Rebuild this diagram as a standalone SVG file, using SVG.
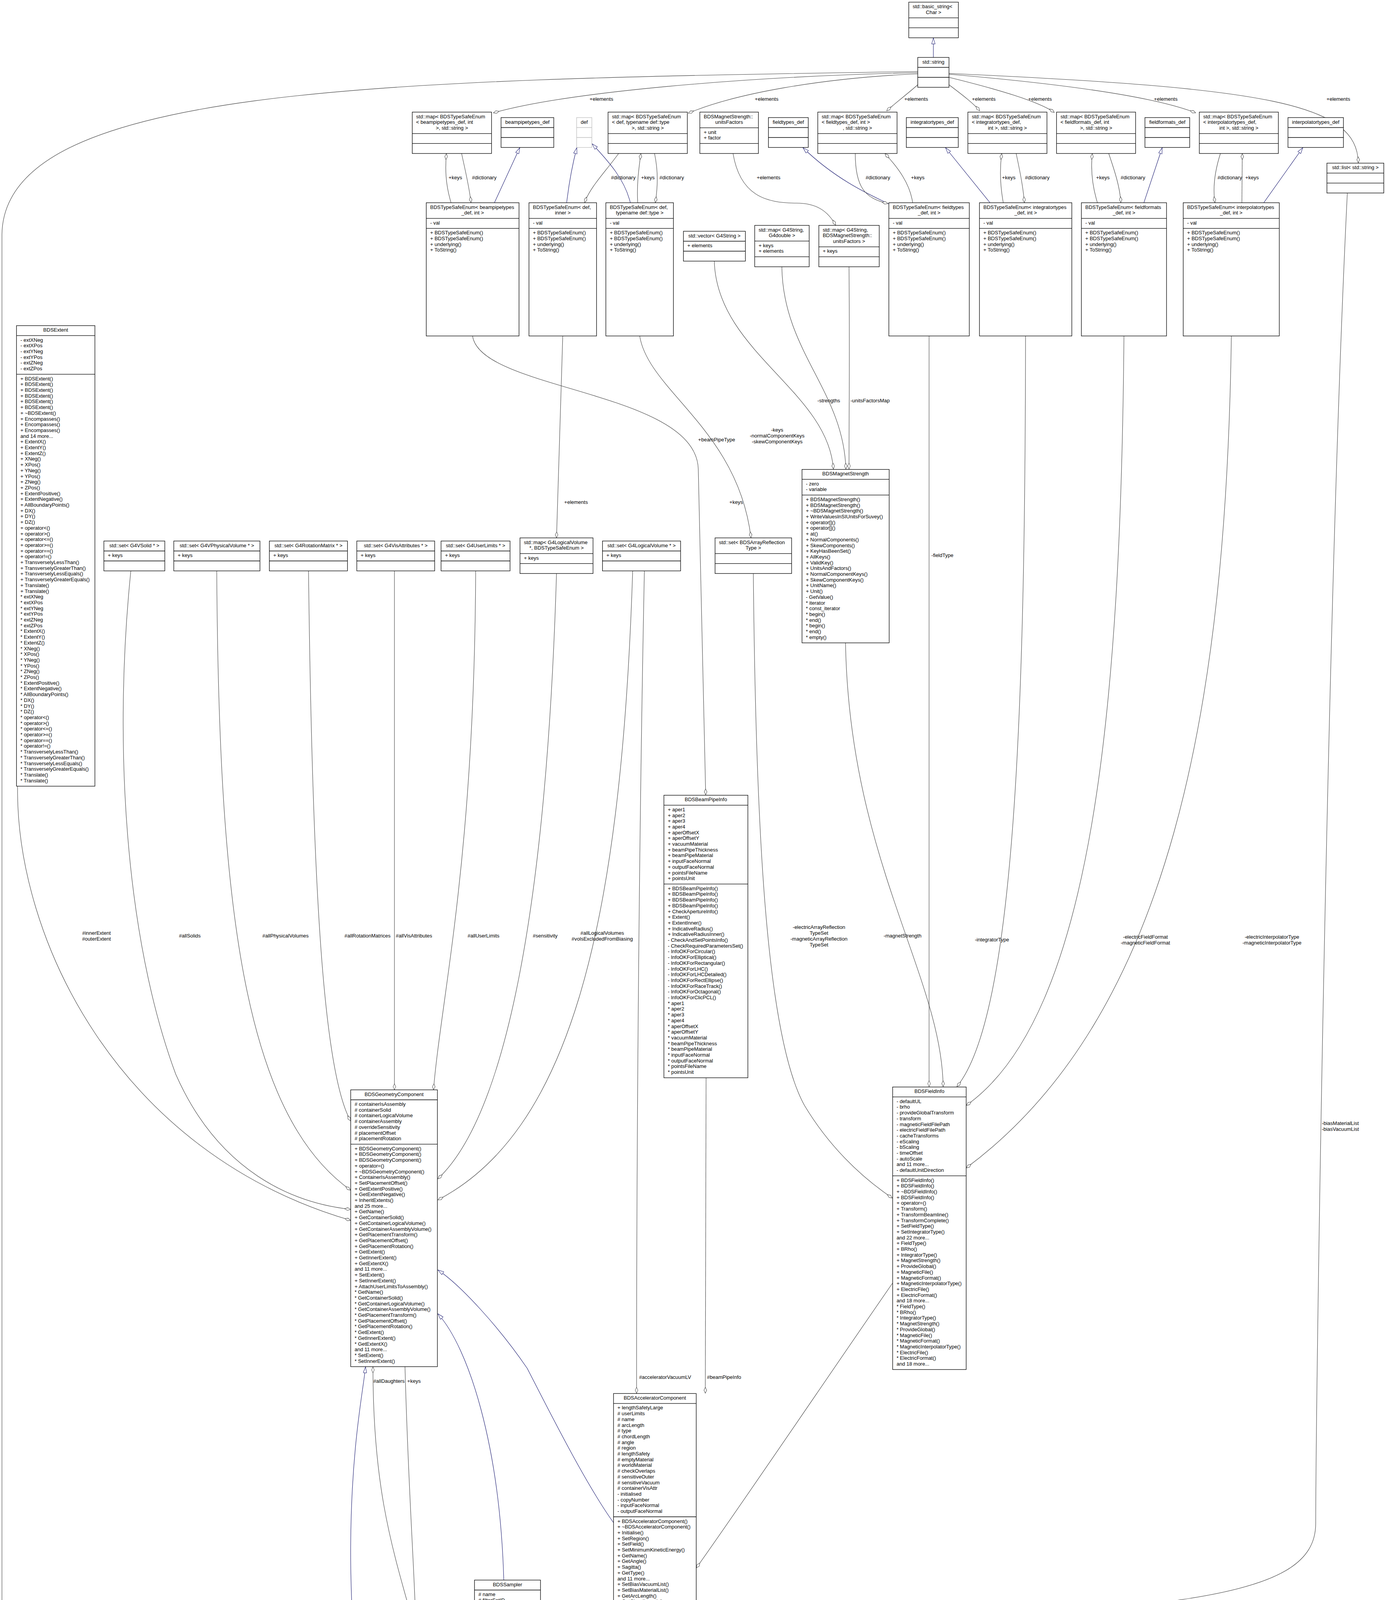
<svg xmlns="http://www.w3.org/2000/svg" width="3549" height="6037" viewBox="0 0 3549 6037">
<style>
.b{fill:#fff;stroke:#000;stroke-width:1.3}
.g{fill:#fff;stroke:#bfbfbf;stroke-width:1.3}
.r{fill:#bfbfbf;stroke:#000;stroke-width:1.3}
.s{stroke:#000;stroke-width:1.3;fill:none}
.sg{stroke:#bfbfbf;stroke-width:1.3;fill:none}
.t{font-family:"Liberation Sans",Arial,Helvetica,sans-serif;font-size:13px;fill:#000}
.c{text-anchor:middle}
.e{fill:none;stroke:#404040;stroke-width:1.1;marker-end:url(#d)}
.i{fill:none;stroke:#191970;stroke-width:1.1;marker-end:url(#a)}
</style>
<defs>
<marker id="d" viewBox="0 0 16 8" refX="16" refY="4" markerWidth="16" markerHeight="8" orient="auto" markerUnits="userSpaceOnUse"><path d="M0.5,4 L8,0.5 L15.5,4 L8,7.5 Z" fill="#fff" stroke="#404040" stroke-width="1"/></marker>
<marker id="a" viewBox="0 0 16 10" refX="16" refY="5" markerWidth="16" markerHeight="10" orient="auto" markerUnits="userSpaceOnUse"><path d="M0.5,0.5 L15.5,5 L0.5,9.5 Z" fill="#fff" stroke="#191970" stroke-width="1"/></marker>
</defs>
<rect width="3549" height="6037" fill="#fff"/>

<g id="edges">
<path class="i" d="M2390,147 L2390,97"/>
<path class="e" d="M2350,186 C1900,196 1450,236 1263,289"/>
<path class="e" d="M2350,189 C2100,200 1880,240 1762,290"/>
<path class="e" d="M2350,217 C2330,235 2295,262 2270,284"/>
<path class="e" d="M2430,217 C2460,240 2490,262 2509,284"/>
<path class="e" d="M2430,198 C2560,230 2660,260 2700,288"/>
<path class="e" d="M2430,190 C2700,213 2950,245 3062,289"/>
<path class="e" d="M2430,188 C3250,225 3475,265 3478,417"/>
<path class="e" d="M2350,183 C1000,205 10,215 5,600 L5,5560 C5,5690 160,5718 276,5723"/>
<path class="e" d="M1155,519 C1140,470 1140,430 1143,393"/>
<path class="e" d="M1182,393 C1192,440 1202,480 1206,519"/>
<path class="i" d="M1266,519 L1331,378"/>
<path class="i" d="M1451,519 C1458,460 1466,420 1477,378"/>
<path class="e" d="M1584,393 C1550,440 1510,480 1497,519"/>
<path class="i" d="M1614,519 C1600,460 1560,415 1516,368"/>
<path class="e" d="M1633,519 C1630,470 1636,430 1641,393"/>
<path class="e" d="M1676,393 C1686,440 1684,480 1678,519"/>
<path class="e" d="M1877,393 C1895,500 1960,520 2040,520 C2090,520 2120,540 2140,577"/>
<path class="i" d="M2276,522 C2230,500 2140,460 2056,378"/>
<path class="e" d="M2190,393 C2190,480 2215,508 2274,521"/>
<path class="e" d="M2337,519 C2330,470 2300,430 2266,393"/>
<path class="i" d="M2535,519 L2421,378"/>
<path class="e" d="M2569,519 C2560,470 2560,430 2565,393"/>
<path class="e" d="M2602,393 C2612,440 2620,480 2623,519"/>
<path class="e" d="M2810,519 C2795,470 2793,430 2797,393"/>
<path class="e" d="M2839,393 C2855,440 2868,480 2870,519"/>
<path class="i" d="M2929,519 L2976,378"/>
<path class="e" d="M3125,393 C3110,440 3105,480 3111,519"/>
<path class="e" d="M3180,519 L3181,393"/>
<path class="i" d="M3236,519 L3336,378"/>
<path class="e" d="M1829,668 C1835,900 2120,1000 2134,1201"/>
<path class="e" d="M2002,683 C2005,900 2160,1000 2166,1201"/>
<path class="e" d="M2174,683 C2176,950 2174,1000 2174,1201"/>
<path class="e" d="M1210,860 C1230,1000 1780,1000 1788,1200 L1807,2035"/>
<path class="e" d="M1638,860 C1660,1000 1890,1100 1923,1377"/>
<path class="e" d="M1441,860 L1425,1377"/>
<path class="e" d="M2379,860 L2379,2782"/>
<path class="e" d="M2165,1646 C2175,2200 2412,2500 2415,2782"/>
<path class="e" d="M1929,1468 C1935,2100 1960,2650 2060,2830 C2120,2930 2200,3010 2285,3067"/>
<path class="e" d="M2626,860 C2625,1800 2600,2600 2450,2782"/>
<path class="e" d="M2878,860 C2870,1800 2800,2600 2474,2830"/>
<path class="e" d="M3153,860 C3140,1800 3000,2600 2474,2990"/>
<path class="e" d="M3450,494 C3400,1500 3370,3500 3369,3900 C3369,4100 3000,4130 1783,4162"/>
<path class="e" d="M2286,3284 C2150,3480 1900,3850 1783,4014"/>
<path class="e" d="M1808,2759 L1806,3567"/>
<path class="e" d="M1650,1462 C1635,2200 1630,3000 1630,3567"/>
<path class="e" d="M1620,1462 C1590,2400 1450,2900 1121,3072"/>
<path class="e" d="M1425,1468 C1400,2300 1300,2850 1121,3018"/>
<path class="e" d="M1010,1462 L1010,2790"/>
<path class="e" d="M1218,1462 C1215,2200 1130,2550 1110,2790"/>
<path class="e" d="M790,1462 C800,2300 830,2750 898,2870"/>
<path class="e" d="M555,1462 C560,2300 620,2850 898,3047"/>
<path class="e" d="M335,1462 C290,1900 320,2400 450,2750 C560,3000 750,3080 898,3096"/>
<path class="e" d="M45,2012 C40,2400 300,2950 898,3124"/>
<path class="e" d="M1037,3498 C1045,3800 1060,4000 1064,4140"/>
<path class="e" d="M1054,4140 C1000,3950 955,3800 955,3499"/>
<path class="i" d="M1571,3898 C1500,3800 1400,3600 1350,3503 C1280,3400 1180,3290 1121,3251"/>
<path class="i" d="M1290,4045 C1280,3700 1200,3450 1121,3363"/>
<path class="i" d="M972,5110 C940,4700 895,4200 898,3950 C900,3700 930,3560 936,3499"/>
<path class="i" d="M1646,4868 L1648,4791"/>
<path class="e" d="M1651,4868 L1657,4791"/>
<path class="i" d="M1229,4868 L1285,4313"/>
<path class="e" d="M1160,5047 C1140,5080 1120,5110 1091,5140"/>
<path class="e" d="M1571,4556 C1450,4750 1200,5150 1091,5222"/>
<path class="e" d="M920,5333 C820,5410 740,5460 684,5496"/>
<path class="e" d="M515,5619 C490,5640 460,5660 440,5683"/>
<path class="e" d="M590,5619 L590,5683"/>
<path class="e" d="M400,5774 C410,5800 425,5815 428,5838"/>
<path class="e" d="M566,5774 C560,5800 545,5815 537,5838"/>
</g>

<g id="edge-labels" class="t c">
<text x="1540" y="257.5">+elements</text>
<text x="1963" y="257.5">+elements</text>
<text x="2346" y="257.5">+elements</text>
<text x="2519" y="257.5">+elements</text>
<text x="2663" y="257.5">+elements</text>
<text x="2985" y="257.5">+elements</text>
<text x="3427" y="257.5">+elements</text>
<text x="1166" y="459">+keys</text>
<text x="1240" y="459">#dictionary</text>
<text x="1596" y="459">#dictionary</text>
<text x="1659" y="459">+keys</text>
<text x="1720" y="459">#dictionary</text>
<text x="1968" y="459">+elements</text>
<text x="2248" y="459">#dictionary</text>
<text x="2350" y="459">+keys</text>
<text x="2583" y="459">+keys</text>
<text x="2656" y="459">#dictionary</text>
<text x="2824" y="459">+keys</text>
<text x="2901" y="459">#dictionary</text>
<text x="3149" y="459">#dictionary</text>
<text x="3206" y="459">+keys</text>
<text x="1835" y="1130">+beamPipeType</text>
<text x="1475" y="1290">+elements</text>
<text x="1885" y="1290">+keys</text>
<text x="1990" y="1105">-keys</text>
<text x="1990" y="1120">-normalComponentKeys</text>
<text x="1990" y="1135">-skewComponentKeys</text>
<text x="2122" y="1030">-strengths</text>
<text x="2228" y="1030">-unitsFactorsMap</text>
<text x="2413" y="1426">-fieldType</text>
<text x="36" y="4500">+keys</text>
<text x="247" y="2392.5">#innerExtent</text>
<text x="247" y="2407.5">#outerExtent</text>
<text x="486" y="2399.5">#allSolids</text>
<text x="731" y="2399.5">#allPhysicalVolumes</text>
<text x="941" y="2399.5">#allRotationMatrices</text>
<text x="1060" y="2399.5">#allVisAttributes</text>
<text x="1238" y="2399.5">#allUserLimits</text>
<text x="1396" y="2399.5">#sensitivity</text>
<text x="1542" y="2392.5">#allLogicalVolumes</text>
<text x="1542" y="2407.5">#volsExcludedFromBiasing</text>
<text x="2097" y="2377.5">-electricArrayReflection</text>
<text x="2097" y="2392.5">TypeSet</text>
<text x="2097" y="2407.5">-magneticArrayReflection</text>
<text x="2097" y="2422.5">TypeSet</text>
<text x="2311" y="2399.5">-magnetStrength</text>
<text x="2540" y="2410">-integratorType</text>
<text x="2933" y="2403">-electricFieldFormat</text>
<text x="2933" y="2418">-magneticFieldFormat</text>
<text x="3257" y="2403">-electricInterpolatorType</text>
<text x="3257" y="2418">-magneticInterpolatorType</text>
<text x="3432" y="2880">-biasMaterialList</text>
<text x="3432" y="2895">-biasVacuumList</text>
<text x="1703" y="3530">#acceleratorVacuumLV</text>
<text x="1854" y="3530">#beamPipeInfo</text>
<text x="996" y="3539.5">#allDaughters</text>
<text x="1060" y="3539.5">+keys</text>
<text x="1707" y="4823">#endPieceAfter</text>
<text x="1703" y="4837">#endPieceBefore</text>
<text x="1162" y="5080">-sampler</text>
<text x="1438" y="4959.5">-component</text>
<text x="731" y="5469.5">+component</text>
<text x="488" y="5654">+elements</text>
<text x="593" y="5654">+elements</text>
<text x="420" y="5808.5">-byName</text>
<text x="556" y="5808.5">-byID</text>
</g>

<g id="n_basic_string"><rect class="b" x="2327" y="5.5" width="127" height="91.2"/><path class="s" d="M2327 45.7h127M2327 71.2h127"/><text class="t" x="2337" y="21">std::basic_string&lt;</text><text class="t c" x="2390.5" y="35.7">Char &gt;</text></g>
<g id="n_string"><rect class="b" x="2350" y="147" width="80" height="76.5"/><path class="s" d="M2350 172.5h80M2350 198h80"/><text class="t c" x="2390" y="162.5">std::string</text></g>

<g id="n_map_bp"><rect class="b" x="1055.6" y="287" width="203" height="105.9"/><path class="s" d="M1055.6 341.9h203M1055.6 367.4h203"/><text class="t" x="1065.6" y="302.5">std::map&lt; BDSTypeSafeEnum<tspan x="1065.6" dy="14.7">&lt; beampipetypes_def, int</tspan></text><text class="t c" x="1157.1" y="331.9">&gt;, std::string &gt;</text></g>
<g id="n_bp_def"><rect class="b" x="1283" y="301" width="135" height="76.5"/><path class="s" d="M1283 326.5h135M1283 352h135"/><text class="t c" x="1350.5" y="316.5">beampipetypes_def</text></g>
<g id="n_def"><rect class="g" x="1476.5" y="301" width="39" height="76.5"/><path class="sg" d="M1476.5 326.5h39M1476.5 352h39"/><text class="t c" x="1496" y="316.5">def</text></g>
<g id="n_map_def"><rect class="b" x="1557" y="287" width="203" height="105.9"/><path class="s" d="M1557 341.9h203M1557 367.4h203"/><text class="t" x="1567" y="302.5">std::map&lt; BDSTypeSafeEnum<tspan x="1567" dy="14.7">&lt; def, typename def::type</tspan></text><text class="t c" x="1658.5" y="331.9">&gt;, std::string &gt;</text></g>
<g id="n_unitsFactors"><rect class="b" x="1792" y="287" width="150" height="105.9"/><path class="s" d="M1792 327.2h150M1792 367.4h150"/><text class="t" x="1802" y="302.5">BDSMagnetStrength::</text><text class="t c" x="1867" y="317.2">unitsFactors</text><text class="t" x="1802" y="342.7">+ unit<tspan x="1802" dy="14.7">+ factor</tspan></text></g>
<g id="n_ft_def"><rect class="b" x="1967.6" y="301" width="102" height="76.5"/><path class="s" d="M1967.6 326.5h102M1967.6 352h102"/><text class="t c" x="2018.6" y="316.5">fieldtypes_def</text></g>
<g id="n_map_ft"><rect class="b" x="2094" y="287" width="203" height="105.9"/><path class="s" d="M2094 341.9h203M2094 367.4h203"/><text class="t" x="2104" y="302.5">std::map&lt; BDSTypeSafeEnum<tspan x="2104" dy="14.7">&lt; fieldtypes_def, int &gt;</tspan></text><text class="t c" x="2195.5" y="331.9">, std::string &gt;</text></g>
<g id="n_it_def"><rect class="b" x="2320.7" y="301" width="133" height="76.5"/><path class="s" d="M2320.7 326.5h133M2320.7 352h133"/><text class="t c" x="2387.2" y="316.5">integratortypes_def</text></g>
<g id="n_map_it"><rect class="b" x="2478.4" y="287" width="202.4" height="105.9"/><path class="s" d="M2478.4 341.9h202.4M2478.4 367.4h202.4"/><text class="t" x="2488.4" y="302.5">std::map&lt; BDSTypeSafeEnum<tspan x="2488.4" dy="14.7">&lt; integratortypes_def,</tspan></text><text class="t c" x="2579.6" y="331.9">int &gt;, std::string &gt;</text></g>
<g id="n_map_ff"><rect class="b" x="2705.4" y="287" width="202.4" height="105.9"/><path class="s" d="M2705.4 341.9h202.4M2705.4 367.4h202.4"/><text class="t" x="2715.4" y="302.5">std::map&lt; BDSTypeSafeEnum<tspan x="2715.4" dy="14.7">&lt; fieldformats_def, int</tspan></text><text class="t c" x="2806.6" y="331.9">&gt;, std::string &gt;</text></g>
<g id="n_ff_def"><rect class="b" x="2931.7" y="301" width="114.7" height="76.5"/><path class="s" d="M2931.7 326.5h114.7M2931.7 352h114.7"/><text class="t c" x="2989" y="316.5">fieldformats_def</text></g>
<g id="n_map_ip"><rect class="b" x="3071" y="287" width="202.4" height="105.9"/><path class="s" d="M3071 341.9h202.4M3071 367.4h202.4"/><text class="t" x="3081" y="302.5">std::map&lt; BDSTypeSafeEnum<tspan x="3081" dy="14.7">&lt; interpolatortypes_def,</tspan></text><text class="t c" x="3172.2" y="331.9">int &gt;, std::string &gt;</text></g>
<g id="n_ip_def"><rect class="b" x="3298" y="301" width="142" height="76.5"/><path class="s" d="M3298 326.5h142M3298 352h142"/><text class="t c" x="3369" y="316.5">interpolatortypes_def</text></g>
<g id="n_list"><rect class="b" x="3397.7" y="417.6" width="145.7" height="76.5"/><path class="s" d="M3397.7 443.1h145.7M3397.7 468.6h145.7"/><text class="t c" x="3470.5" y="433.1">std::list&lt; std::string &gt;</text></g>

<g id="n_enum_bp"><rect class="b" x="1091.5" y="519" width="237.5" height="341.1"/><path class="s" d="M1091.5 559.2h237.5M1091.5 584.7h237.5"/><text class="t" x="1101.5" y="534.5">BDSTypeSafeEnum&lt; beampipetypes</text><text class="t c" x="1210.25" y="549.2">_def, int &gt;</text><text class="t" x="1101.5" y="575">- val</text><text class="t" x="1101.5" y="600.2">+ BDSTypeSafeEnum()<tspan x="1101.5" dy="14.7">+ BDSTypeSafeEnum()</tspan><tspan x="1101.5" dy="14.7">+ underlying()</tspan><tspan x="1101.5" dy="14.7">+ ToString()</tspan></text></g>
<g id="n_enum_di"><rect class="b" x="1354.5" y="519" width="173" height="341.1"/><path class="s" d="M1354.5 559.2h173M1354.5 584.7h173"/><text class="t" x="1364.5" y="534.5">BDSTypeSafeEnum&lt; def,</text><text class="t c" x="1441" y="549.2">inner &gt;</text><text class="t" x="1364.5" y="575">- val</text><text class="t" x="1364.5" y="600.2">+ BDSTypeSafeEnum()<tspan x="1364.5" dy="14.7">+ BDSTypeSafeEnum()</tspan><tspan x="1364.5" dy="14.7">+ underlying()</tspan><tspan x="1364.5" dy="14.7">+ ToString()</tspan></text></g>
<g id="n_enum_dt"><rect class="b" x="1551.4" y="519" width="173" height="341.1"/><path class="s" d="M1551.4 559.2h173M1551.4 584.7h173"/><text class="t" x="1561.4" y="534.5">BDSTypeSafeEnum&lt; def,</text><text class="t c" x="1637.9" y="549.2">typename def::type &gt;</text><text class="t" x="1561.4" y="575">- val</text><text class="t" x="1561.4" y="600.2">+ BDSTypeSafeEnum()<tspan x="1561.4" dy="14.7">+ BDSTypeSafeEnum()</tspan><tspan x="1561.4" dy="14.7">+ underlying()</tspan><tspan x="1561.4" dy="14.7">+ ToString()</tspan></text></g>
<g id="n_enum_ft"><rect class="b" x="2276" y="519" width="206" height="341.1"/><path class="s" d="M2276 559.2h206M2276 584.7h206"/><text class="t" x="2286" y="534.5">BDSTypeSafeEnum&lt; fieldtypes</text><text class="t c" x="2379" y="549.2">_def, int &gt;</text><text class="t" x="2286" y="575">- val</text><text class="t" x="2286" y="600.2">+ BDSTypeSafeEnum()<tspan x="2286" dy="14.7">+ BDSTypeSafeEnum()</tspan><tspan x="2286" dy="14.7">+ underlying()</tspan><tspan x="2286" dy="14.7">+ ToString()</tspan></text></g>
<g id="n_enum_it"><rect class="b" x="2508" y="519" width="236.5" height="341.1"/><path class="s" d="M2508 559.2h236.5M2508 584.7h236.5"/><text class="t" x="2518" y="534.5">BDSTypeSafeEnum&lt; integratortypes</text><text class="t c" x="2626.25" y="549.2">_def, int &gt;</text><text class="t" x="2518" y="575">- val</text><text class="t" x="2518" y="600.2">+ BDSTypeSafeEnum()<tspan x="2518" dy="14.7">+ BDSTypeSafeEnum()</tspan><tspan x="2518" dy="14.7">+ underlying()</tspan><tspan x="2518" dy="14.7">+ ToString()</tspan></text></g>
<g id="n_enum_ff"><rect class="b" x="2769" y="519" width="218" height="341.1"/><path class="s" d="M2769 559.2h218M2769 584.7h218"/><text class="t" x="2779" y="534.5">BDSTypeSafeEnum&lt; fieldformats</text><text class="t c" x="2878" y="549.2">_def, int &gt;</text><text class="t" x="2779" y="575">- val</text><text class="t" x="2779" y="600.2">+ BDSTypeSafeEnum()<tspan x="2779" dy="14.7">+ BDSTypeSafeEnum()</tspan><tspan x="2779" dy="14.7">+ underlying()</tspan><tspan x="2779" dy="14.7">+ ToString()</tspan></text></g>
<g id="n_enum_ip"><rect class="b" x="3029.7" y="519" width="246" height="341.1"/><path class="s" d="M3029.7 559.2h246M3029.7 584.7h246"/><text class="t" x="3039.7" y="534.5">BDSTypeSafeEnum&lt; interpolatortypes</text><text class="t c" x="3152.7" y="549.2">_def, int &gt;</text><text class="t" x="3039.7" y="575">- val</text><text class="t" x="3039.7" y="600.2">+ BDSTypeSafeEnum()<tspan x="3039.7" dy="14.7">+ BDSTypeSafeEnum()</tspan><tspan x="3039.7" dy="14.7">+ underlying()</tspan><tspan x="3039.7" dy="14.7">+ ToString()</tspan></text></g>

<g id="n_vec_g4string"><rect class="b" x="1750" y="592" width="158.6" height="76.5"/><path class="s" d="M1750 617.5h158.6M1750 643h158.6"/><text class="t c" x="1829.3" y="607.5">std::vector&lt; G4String &gt;</text><text class="t" x="1760" y="633">+ elements</text></g>
<g id="n_map_g4double"><rect class="b" x="1932.5" y="577" width="139.5" height="105.9"/><path class="s" d="M1932.5 617.2h139.5M1932.5 657.4h139.5"/><text class="t" x="1942.5" y="592.5">std::map&lt; G4String,</text><text class="t c" x="2002.25" y="607.2">G4double &gt;</text><text class="t" x="1942.5" y="632.7">+ keys<tspan x="1942.5" dy="14.7">+ elements</tspan></text></g>
<g id="n_map_uf"><rect class="b" x="2096.7" y="577" width="154.7" height="105.9"/><path class="s" d="M2096.7 631.9h154.7M2096.7 657.4h154.7"/><text class="t" x="2106.7" y="592.5">std::map&lt; G4String,<tspan x="2106.7" dy="14.7">BDSMagnetStrength::</tspan></text><text class="t c" x="2174" y="621.9">unitsFactors &gt;</text><text class="t" x="2106.7" y="647.4">+ keys</text></g>

<g id="n_BDSExtent"><rect class="b" x="42.3" y="833.6" width="200.7" height="1179"/><path class="s" d="M42.3 859.1h200.7M42.3 958.1h200.7"/><text class="t c" x="142.65" y="849.1">BDSExtent</text>
<text class="t" x="52.3" y="874.6">- extXNeg<tspan x="52.3" dy="14.7">- extXPos</tspan><tspan x="52.3" dy="14.7">- extYNeg</tspan><tspan x="52.3" dy="14.7">- extYPos</tspan><tspan x="52.3" dy="14.7">- extZNeg</tspan><tspan x="52.3" dy="14.7">- extZPos</tspan></text>
<text class="t" x="52.3" y="973.6">+ BDSExtent()<tspan x="52.3" dy="14.7">+ BDSExtent()</tspan><tspan x="52.3" dy="14.7">+ BDSExtent()</tspan><tspan x="52.3" dy="14.7">+ BDSExtent()</tspan><tspan x="52.3" dy="14.7">+ BDSExtent()</tspan><tspan x="52.3" dy="14.7">+ BDSExtent()</tspan><tspan x="52.3" dy="14.7">+ ~BDSExtent()</tspan><tspan x="52.3" dy="14.7">+ Encompasses()</tspan><tspan x="52.3" dy="14.7">+ Encompasses()</tspan><tspan x="52.3" dy="14.7">+ Encompasses()</tspan><tspan x="52.3" dy="14.7">and 14 more...</tspan><tspan x="52.3" dy="14.7">+ ExtentX()</tspan><tspan x="52.3" dy="14.7">+ ExtentY()</tspan><tspan x="52.3" dy="14.7">+ ExtentZ()</tspan><tspan x="52.3" dy="14.7">+ XNeg()</tspan><tspan x="52.3" dy="14.7">+ XPos()</tspan><tspan x="52.3" dy="14.7">+ YNeg()</tspan><tspan x="52.3" dy="14.7">+ YPos()</tspan><tspan x="52.3" dy="14.7">+ ZNeg()</tspan><tspan x="52.3" dy="14.7">+ ZPos()</tspan><tspan x="52.3" dy="14.7">+ ExtentPositive()</tspan><tspan x="52.3" dy="14.7">+ ExtentNegative()</tspan><tspan x="52.3" dy="14.7">+ AllBoundaryPoints()</tspan><tspan x="52.3" dy="14.7">+ DX()</tspan><tspan x="52.3" dy="14.7">+ DY()</tspan><tspan x="52.3" dy="14.7">+ DZ()</tspan><tspan x="52.3" dy="14.7">+ operator&lt;()</tspan><tspan x="52.3" dy="14.7">+ operator&gt;()</tspan><tspan x="52.3" dy="14.7">+ operator&lt;=()</tspan><tspan x="52.3" dy="14.7">+ operator&gt;=()</tspan><tspan x="52.3" dy="14.7">+ operator==()</tspan><tspan x="52.3" dy="14.7">+ operator!=()</tspan><tspan x="52.3" dy="14.7">+ TransverselyLessThan()</tspan><tspan x="52.3" dy="14.7">+ TransverselyGreaterThan()</tspan><tspan x="52.3" dy="14.7">+ TransverselyLessEquals()</tspan><tspan x="52.3" dy="14.7">+ TransverselyGreaterEquals()</tspan><tspan x="52.3" dy="14.7">+ Translate()</tspan><tspan x="52.3" dy="14.7">+ Translate()</tspan><tspan x="52.3" dy="14.7">* extXNeg</tspan><tspan x="52.3" dy="14.7">* extXPos</tspan><tspan x="52.3" dy="14.7">* extYNeg</tspan><tspan x="52.3" dy="14.7">* extYPos</tspan><tspan x="52.3" dy="14.7">* extZNeg</tspan><tspan x="52.3" dy="14.7">* extZPos</tspan><tspan x="52.3" dy="14.7">* ExtentX()</tspan><tspan x="52.3" dy="14.7">* ExtentY()</tspan><tspan x="52.3" dy="14.7">* ExtentZ()</tspan><tspan x="52.3" dy="14.7">* XNeg()</tspan><tspan x="52.3" dy="14.7">* XPos()</tspan><tspan x="52.3" dy="14.7">* YNeg()</tspan><tspan x="52.3" dy="14.7">* YPos()</tspan><tspan x="52.3" dy="14.7">* ZNeg()</tspan><tspan x="52.3" dy="14.7">* ZPos()</tspan><tspan x="52.3" dy="14.7">* ExtentPositive()</tspan><tspan x="52.3" dy="14.7">* ExtentNegative()</tspan><tspan x="52.3" dy="14.7">* AllBoundaryPoints()</tspan><tspan x="52.3" dy="14.7">* DX()</tspan><tspan x="52.3" dy="14.7">* DY()</tspan><tspan x="52.3" dy="14.7">* DZ()</tspan><tspan x="52.3" dy="14.7">* operator&lt;()</tspan><tspan x="52.3" dy="14.7">* operator&gt;()</tspan><tspan x="52.3" dy="14.7">* operator&lt;=()</tspan><tspan x="52.3" dy="14.7">* operator&gt;=()</tspan><tspan x="52.3" dy="14.7">* operator==()</tspan><tspan x="52.3" dy="14.7">* operator!=()</tspan><tspan x="52.3" dy="14.7">* TransverselyLessThan()</tspan><tspan x="52.3" dy="14.7">* TransverselyGreaterThan()</tspan><tspan x="52.3" dy="14.7">* TransverselyLessEquals()</tspan><tspan x="52.3" dy="14.7">* TransverselyGreaterEquals()</tspan><tspan x="52.3" dy="14.7">* Translate()</tspan><tspan x="52.3" dy="14.7">* Translate()</tspan></text></g>

<g id="n_set_solid"><rect class="b" x="266" y="1385" width="156" height="76.5"/><path class="s" d="M266 1410.5h156M266 1436h156"/><text class="t c" x="344" y="1400.5">std::set&lt; G4VSolid * &gt;</text><text class="t" x="276" y="1426">+ keys</text></g>
<g id="n_set_pv"><rect class="b" x="445" y="1385" width="220.6" height="76.5"/><path class="s" d="M445 1410.5h220.6M445 1436h220.6"/><text class="t c" x="555.3" y="1400.5">std::set&lt; G4VPhysicalVolume * &gt;</text><text class="t" x="455" y="1426">+ keys</text></g>
<g id="n_set_rot"><rect class="b" x="689.7" y="1385" width="200" height="76.5"/><path class="s" d="M689.7 1410.5h200M689.7 1436h200"/><text class="t c" x="789.7" y="1400.5">std::set&lt; G4RotationMatrix * &gt;</text><text class="t" x="699.7" y="1426">+ keys</text></g>
<g id="n_set_vis"><rect class="b" x="913.6" y="1385" width="199.4" height="76.5"/><path class="s" d="M913.6 1410.5h199.4M913.6 1436h199.4"/><text class="t c" x="1013.3" y="1400.5">std::set&lt; G4VisAttributes * &gt;</text><text class="t" x="923.6" y="1426">+ keys</text></g>
<g id="n_set_ul"><rect class="b" x="1129.4" y="1385" width="176.6" height="76.5"/><path class="s" d="M1129.4 1410.5h176.6M1129.4 1436h176.6"/><text class="t c" x="1217.7" y="1400.5">std::set&lt; G4UserLimits * &gt;</text><text class="t" x="1139.4" y="1426">+ keys</text></g>
<g id="n_map_lv"><rect class="b" x="1331.5" y="1377" width="187" height="91.2"/><path class="s" d="M1331.5 1417.2h187M1331.5 1442.7h187"/><text class="t" x="1341.5" y="1392.5">std::map&lt; G4LogicalVolume</text><text class="t c" x="1425" y="1407.2">*, BDSTypeSafeEnum &gt;</text><text class="t" x="1341.5" y="1432.7">+ keys</text></g>
<g id="n_set_lv"><rect class="b" x="1542.7" y="1385" width="200" height="76.5"/><path class="s" d="M1542.7 1410.5h200M1542.7 1436h200"/><text class="t c" x="1642.7" y="1400.5">std::set&lt; G4LogicalVolume * &gt;</text><text class="t" x="1552.7" y="1426">+ keys</text></g>
<g id="n_set_ar"><rect class="b" x="1831" y="1377" width="196" height="91.2"/><path class="s" d="M1831 1417.2h196M1831 1442.7h196"/><text class="t" x="1841" y="1392.5">std::set&lt; BDSArrayReflection</text><text class="t c" x="1929" y="1407.2">Type &gt;</text></g>

<g id="n_BDSMagnetStrength"><rect class="b" x="2053.6" y="1201.7" width="223.2" height="444"/><path class="s" d="M2053.6 1227.2h223.2M2053.6 1267.4h223.2"/><text class="t c" x="2165.2" y="1217.2">BDSMagnetStrength</text><text class="t" x="2063.6" y="1242.7">- zero<tspan x="2063.6" dy="14.7">- variable</tspan></text>
<text class="t" x="2063.6" y="1282.9">+ BDSMagnetStrength()<tspan x="2063.6" dy="14.7">+ BDSMagnetStrength()</tspan><tspan x="2063.6" dy="14.7">+ ~BDSMagnetStrength()</tspan><tspan x="2063.6" dy="14.7">+ WriteValuesInSIUnitsForSuvey()</tspan><tspan x="2063.6" dy="14.7">+ operator[]()</tspan><tspan x="2063.6" dy="14.7">+ operator[]()</tspan><tspan x="2063.6" dy="14.7">+ at()</tspan><tspan x="2063.6" dy="14.7">+ NormalComponents()</tspan><tspan x="2063.6" dy="14.7">+ SkewComponents()</tspan><tspan x="2063.6" dy="14.7">+ KeyHasBeenSet()</tspan><tspan x="2063.6" dy="14.7">+ AllKeys()</tspan><tspan x="2063.6" dy="14.7">+ ValidKey()</tspan><tspan x="2063.6" dy="14.7">+ UnitsAndFactors()</tspan><tspan x="2063.6" dy="14.7">+ NormalComponentKeys()</tspan><tspan x="2063.6" dy="14.7">+ SkewComponentKeys()</tspan><tspan x="2063.6" dy="14.7">+ UnitName()</tspan><tspan x="2063.6" dy="14.7">+ Unit()</tspan><tspan x="2063.6" dy="14.7">- GetValue()</tspan><tspan x="2063.6" dy="14.7">* iterator</tspan><tspan x="2063.6" dy="14.7">* const_iterator</tspan><tspan x="2063.6" dy="14.7">* begin()</tspan><tspan x="2063.6" dy="14.7">* end()</tspan><tspan x="2063.6" dy="14.7">* begin()</tspan><tspan x="2063.6" dy="14.7">* end()</tspan><tspan x="2063.6" dy="14.7">* empty()</tspan></text></g>

<g id="n_BDSBeamPipeInfo"><rect class="b" x="1700" y="2035.8" width="215" height="723.3"/><path class="s" d="M1700 2061.3h215M1700 2263.2h215"/><text class="t c" x="1807.5" y="2051.3">BDSBeamPipeInfo</text>
<text class="t" x="1710" y="2076.8">+ aper1<tspan x="1710" dy="14.7">+ aper2</tspan><tspan x="1710" dy="14.7">+ aper3</tspan><tspan x="1710" dy="14.7">+ aper4</tspan><tspan x="1710" dy="14.7">+ aperOffsetX</tspan><tspan x="1710" dy="14.7">+ aperOffsetY</tspan><tspan x="1710" dy="14.7">+ vacuumMaterial</tspan><tspan x="1710" dy="14.7">+ beamPipeThickness</tspan><tspan x="1710" dy="14.7">+ beamPipeMaterial</tspan><tspan x="1710" dy="14.7">+ inputFaceNormal</tspan><tspan x="1710" dy="14.7">+ outputFaceNormal</tspan><tspan x="1710" dy="14.7">+ pointsFileName</tspan><tspan x="1710" dy="14.7">+ pointsUnit</tspan></text>
<text class="t" x="1710" y="2278.7">+ BDSBeamPipeInfo()<tspan x="1710" dy="14.7">+ BDSBeamPipeInfo()</tspan><tspan x="1710" dy="14.7">+ BDSBeamPipeInfo()</tspan><tspan x="1710" dy="14.7">+ BDSBeamPipeInfo()</tspan><tspan x="1710" dy="14.7">+ CheckApertureInfo()</tspan><tspan x="1710" dy="14.7">+ Extent()</tspan><tspan x="1710" dy="14.7">+ ExtentInner()</tspan><tspan x="1710" dy="14.7">+ IndicativeRadius()</tspan><tspan x="1710" dy="14.7">+ IndicativeRadiusInner()</tspan><tspan x="1710" dy="14.7">- CheckAndSetPointsInfo()</tspan><tspan x="1710" dy="14.7">- CheckRequiredParametersSet()</tspan><tspan x="1710" dy="14.7">- InfoOKForCircular()</tspan><tspan x="1710" dy="14.7">- InfoOKForElliptical()</tspan><tspan x="1710" dy="14.7">- InfoOKForRectangular()</tspan><tspan x="1710" dy="14.7">- InfoOKForLHC()</tspan><tspan x="1710" dy="14.7">- InfoOKForLHCDetailed()</tspan><tspan x="1710" dy="14.7">- InfoOKForRectEllipse()</tspan><tspan x="1710" dy="14.7">- InfoOKForRaceTrack()</tspan><tspan x="1710" dy="14.7">- InfoOKForOctagonal()</tspan><tspan x="1710" dy="14.7">- InfoOKForClicPCL()</tspan><tspan x="1710" dy="14.7">* aper1</tspan><tspan x="1710" dy="14.7">* aper2</tspan><tspan x="1710" dy="14.7">* aper3</tspan><tspan x="1710" dy="14.7">* aper4</tspan><tspan x="1710" dy="14.7">* aperOffsetX</tspan><tspan x="1710" dy="14.7">* aperOffsetY</tspan><tspan x="1710" dy="14.7">* vacuumMaterial</tspan><tspan x="1710" dy="14.7">* beamPipeThickness</tspan><tspan x="1710" dy="14.7">* beamPipeMaterial</tspan><tspan x="1710" dy="14.7">* inputFaceNormal</tspan><tspan x="1710" dy="14.7">* outputFaceNormal</tspan><tspan x="1710" dy="14.7">* pointsFileName</tspan><tspan x="1710" dy="14.7">* pointsUnit</tspan></text></g>

<g id="n_BDSGeometryComponent"><rect class="b" x="898" y="2790" width="222" height="708.6"/><path class="s" d="M898 2815.5h222M898 2929.2h222"/><text class="t c" x="1009" y="2805.5">BDSGeometryComponent</text>
<text class="t" x="908" y="2831"># containerIsAssembly<tspan x="908" dy="14.7"># containerSolid</tspan><tspan x="908" dy="14.7"># containerLogicalVolume</tspan><tspan x="908" dy="14.7"># containerAssembly</tspan><tspan x="908" dy="14.7"># overrideSensitivity</tspan><tspan x="908" dy="14.7"># placementOffset</tspan><tspan x="908" dy="14.7"># placementRotation</tspan></text>
<text class="t" x="908" y="2944.7">+ BDSGeometryComponent()<tspan x="908" dy="14.7">+ BDSGeometryComponent()</tspan><tspan x="908" dy="14.7">+ BDSGeometryComponent()</tspan><tspan x="908" dy="14.7">+ operator=()</tspan><tspan x="908" dy="14.7">+ ~BDSGeometryComponent()</tspan><tspan x="908" dy="14.7">+ ContainerIsAssembly()</tspan><tspan x="908" dy="14.7">+ SetPlacementOffset()</tspan><tspan x="908" dy="14.7">+ GetExtentPositive()</tspan><tspan x="908" dy="14.7">+ GetExtentNegative()</tspan><tspan x="908" dy="14.7">+ InheritExtents()</tspan><tspan x="908" dy="14.7">and 25 more...</tspan><tspan x="908" dy="14.7">+ GetName()</tspan><tspan x="908" dy="14.7">+ GetContainerSolid()</tspan><tspan x="908" dy="14.7">+ GetContainerLogicalVolume()</tspan><tspan x="908" dy="14.7">+ GetContainerAssemblyVolume()</tspan><tspan x="908" dy="14.7">+ GetPlacementTransform()</tspan><tspan x="908" dy="14.7">+ GetPlacementOffset()</tspan><tspan x="908" dy="14.7">+ GetPlacementRotation()</tspan><tspan x="908" dy="14.7">+ GetExtent()</tspan><tspan x="908" dy="14.7">+ GetInnerExtent()</tspan><tspan x="908" dy="14.7">+ GetExtentX()</tspan><tspan x="908" dy="14.7">and 11 more...</tspan><tspan x="908" dy="14.7">+ SetExtent()</tspan><tspan x="908" dy="14.7">+ SetInnerExtent()</tspan><tspan x="908" dy="14.7">+ AttachUserLimitsToAssembly()</tspan><tspan x="908" dy="14.7">* GetName()</tspan><tspan x="908" dy="14.7">* GetContainerSolid()</tspan><tspan x="908" dy="14.7">* GetContainerLogicalVolume()</tspan><tspan x="908" dy="14.7">* GetContainerAssemblyVolume()</tspan><tspan x="908" dy="14.7">* GetPlacementTransform()</tspan><tspan x="908" dy="14.7">* GetPlacementOffset()</tspan><tspan x="908" dy="14.7">* GetPlacementRotation()</tspan><tspan x="908" dy="14.7">* GetExtent()</tspan><tspan x="908" dy="14.7">* GetInnerExtent()</tspan><tspan x="908" dy="14.7">* GetExtentX()</tspan><tspan x="908" dy="14.7">and 11 more...</tspan><tspan x="908" dy="14.7">* SetExtent()</tspan><tspan x="908" dy="14.7">* SetInnerExtent()</tspan></text></g>

<g id="n_BDSFieldInfo"><rect class="b" x="2285.7" y="2782.7" width="188.3" height="723.3"/><path class="s" d="M2285.7 2808.2h188.3M2285.7 3010.1h188.3"/><text class="t c" x="2379.85" y="2798.2">BDSFieldInfo</text>
<text class="t" x="2295.7" y="2823.7">- defaultUL<tspan x="2295.7" dy="14.7">- brho</tspan><tspan x="2295.7" dy="14.7">- provideGlobalTransform</tspan><tspan x="2295.7" dy="14.7">- transform</tspan><tspan x="2295.7" dy="14.7">- magneticFieldFilePath</tspan><tspan x="2295.7" dy="14.7">- electricFieldFilePath</tspan><tspan x="2295.7" dy="14.7">- cacheTransforms</tspan><tspan x="2295.7" dy="14.7">- eScaling</tspan><tspan x="2295.7" dy="14.7">- bScaling</tspan><tspan x="2295.7" dy="14.7">- timeOffset</tspan><tspan x="2295.7" dy="14.7">- autoScale</tspan><tspan x="2295.7" dy="14.7">and 11 more...</tspan><tspan x="2295.7" dy="14.7">- defaultUnitDirection</tspan></text>
<text class="t" x="2295.7" y="3025.6">+ BDSFieldInfo()<tspan x="2295.7" dy="14.7">+ BDSFieldInfo()</tspan><tspan x="2295.7" dy="14.7">+ ~BDSFieldInfo()</tspan><tspan x="2295.7" dy="14.7">+ BDSFieldInfo()</tspan><tspan x="2295.7" dy="14.7">+ operator=()</tspan><tspan x="2295.7" dy="14.7">+ Transform()</tspan><tspan x="2295.7" dy="14.7">+ TransformBeamline()</tspan><tspan x="2295.7" dy="14.7">+ TransformComplete()</tspan><tspan x="2295.7" dy="14.7">+ SetFieldType()</tspan><tspan x="2295.7" dy="14.7">+ SetIntegratorType()</tspan><tspan x="2295.7" dy="14.7">and 22 more...</tspan><tspan x="2295.7" dy="14.7">+ FieldType()</tspan><tspan x="2295.7" dy="14.7">+ BRho()</tspan><tspan x="2295.7" dy="14.7">+ IntegratorType()</tspan><tspan x="2295.7" dy="14.7">+ MagnetStrength()</tspan><tspan x="2295.7" dy="14.7">+ ProvideGlobal()</tspan><tspan x="2295.7" dy="14.7">+ MagneticFile()</tspan><tspan x="2295.7" dy="14.7">+ MagneticFormat()</tspan><tspan x="2295.7" dy="14.7">+ MagneticInterpolatorType()</tspan><tspan x="2295.7" dy="14.7">+ ElectricFile()</tspan><tspan x="2295.7" dy="14.7">+ ElectricFormat()</tspan><tspan x="2295.7" dy="14.7">and 18 more...</tspan><tspan x="2295.7" dy="14.7">* FieldType()</tspan><tspan x="2295.7" dy="14.7">* BRho()</tspan><tspan x="2295.7" dy="14.7">* IntegratorType()</tspan><tspan x="2295.7" dy="14.7">* MagnetStrength()</tspan><tspan x="2295.7" dy="14.7">* ProvideGlobal()</tspan><tspan x="2295.7" dy="14.7">* MagneticFile()</tspan><tspan x="2295.7" dy="14.7">* MagneticFormat()</tspan><tspan x="2295.7" dy="14.7">* MagneticInterpolatorType()</tspan><tspan x="2295.7" dy="14.7">* ElectricFile()</tspan><tspan x="2295.7" dy="14.7">* ElectricFormat()</tspan><tspan x="2295.7" dy="14.7">and 18 more...</tspan></text></g>

<g id="n_BDSAcceleratorComponent"><rect class="b" x="1571" y="3567.4" width="211.7" height="1223.1"/><path class="s" d="M1571 3592.9h211.7M1571 3883h211.7"/><text class="t c" x="1676.85" y="3582.9">BDSAcceleratorComponent</text>
<text class="t" x="1581" y="3608.4">+ lengthSafetyLarge<tspan x="1581" dy="14.7"># userLimits</tspan><tspan x="1581" dy="14.7"># name</tspan><tspan x="1581" dy="14.7"># arcLength</tspan><tspan x="1581" dy="14.7"># type</tspan><tspan x="1581" dy="14.7"># chordLength</tspan><tspan x="1581" dy="14.7"># angle</tspan><tspan x="1581" dy="14.7"># region</tspan><tspan x="1581" dy="14.7"># lengthSafety</tspan><tspan x="1581" dy="14.7"># emptyMaterial</tspan><tspan x="1581" dy="14.7"># worldMaterial</tspan><tspan x="1581" dy="14.7"># checkOverlaps</tspan><tspan x="1581" dy="14.7"># sensitiveOuter</tspan><tspan x="1581" dy="14.7"># sensitiveVacuum</tspan><tspan x="1581" dy="14.7"># containerVisAttr</tspan><tspan x="1581" dy="14.7">- initialised</tspan><tspan x="1581" dy="14.7">- copyNumber</tspan><tspan x="1581" dy="14.7">- inputFaceNormal</tspan><tspan x="1581" dy="14.7">- outputFaceNormal</tspan></text>
<text class="t" x="1581" y="3898.5">+ BDSAcceleratorComponent()<tspan x="1581" dy="14.7">+ ~BDSAcceleratorComponent()</tspan><tspan x="1581" dy="14.7">+ Initialise()</tspan><tspan x="1581" dy="14.7">+ SetRegion()</tspan><tspan x="1581" dy="14.7">+ SetField()</tspan><tspan x="1581" dy="14.7">+ SetMinimumKineticEnergy()</tspan><tspan x="1581" dy="14.7">+ GetName()</tspan><tspan x="1581" dy="14.7">+ GetAngle()</tspan><tspan x="1581" dy="14.7">+ Sagitta()</tspan><tspan x="1581" dy="14.7">+ GetType()</tspan><tspan x="1581" dy="14.7">and 11 more...</tspan><tspan x="1581" dy="14.7">+ SetBiasVacuumList()</tspan><tspan x="1581" dy="14.7">+ SetBiasMaterialList()</tspan><tspan x="1581" dy="14.7">+ GetArcLength()</tspan><tspan x="1581" dy="14.7">+ GetChordLength()</tspan><tspan x="1581" dy="14.7">+ InputFaceNormal()</tspan><tspan x="1581" dy="14.7">+ OutputFaceNormal()</tspan><tspan x="1581" dy="14.7">+ AngledInputFace()</tspan><tspan x="1581" dy="14.7">+ AngledOutputFace()</tspan><tspan x="1581" dy="14.7">+ GetBiasVacuumList()</tspan><tspan x="1581" dy="14.7">+ GetBiasMaterialList()</tspan><tspan x="1581" dy="14.7">+ SetInputFaceNormal()</tspan><tspan x="1581" dy="14.7">+ SetOutputFaceNormal()</tspan><tspan x="1581" dy="14.7"># Build()</tspan><tspan x="1581" dy="14.7"># BuildContainerLogicalVolume()</tspan><tspan x="1581" dy="14.7"># SetAcceleratorVacuumLogical</tspan><tspan x="1581" dy="14.7">Volume()</tspan><tspan x="1581" dy="14.7"># SetAcceleratorVacuumLogical</tspan><tspan x="1581" dy="14.7">Volume()</tspan><tspan x="1581" dy="14.7"># BuildUserLimits()</tspan><tspan x="1581" dy="14.7"># AttachUserLimits()</tspan><tspan x="1581" dy="14.7">- BDSAcceleratorComponent()</tspan><tspan x="1581" dy="14.7">- operator=()</tspan><tspan x="1581" dy="14.7">- BDSAcceleratorComponent()</tspan><tspan x="1581" dy="14.7">* name</tspan><tspan x="1581" dy="14.7">* arcLength</tspan><tspan x="1581" dy="14.7">* type</tspan><tspan x="1581" dy="14.7">* chordLength</tspan><tspan x="1581" dy="14.7">* angle</tspan><tspan x="1581" dy="14.7">* region</tspan><tspan x="1581" dy="14.7">* lengthSafety</tspan><tspan x="1581" dy="14.7">* emptyMaterial</tspan><tspan x="1581" dy="14.7">* worldMaterial</tspan><tspan x="1581" dy="14.7">* checkOverlaps</tspan><tspan x="1581" dy="14.7">* sensitiveOuter</tspan><tspan x="1581" dy="14.7">* sensitiveVacuum</tspan><tspan x="1581" dy="14.7">* containerVisAttr</tspan><tspan x="1581" dy="14.7">* SetBiasVacuumList()</tspan><tspan x="1581" dy="14.7">* SetBiasMaterialList()</tspan><tspan x="1581" dy="14.7">* GetArcLength()</tspan><tspan x="1581" dy="14.7">* GetChordLength()</tspan><tspan x="1581" dy="14.7">* InputFaceNormal()</tspan><tspan x="1581" dy="14.7">* OutputFaceNormal()</tspan><tspan x="1581" dy="14.7">* AngledInputFace()</tspan><tspan x="1581" dy="14.7">* AngledOutputFace()</tspan><tspan x="1581" dy="14.7">* GetBiasVacuumList()</tspan><tspan x="1581" dy="14.7">* GetBiasMaterialList()</tspan><tspan x="1581" dy="14.7">* SetInputFaceNormal()</tspan><tspan x="1581" dy="14.7">* SetOutputFaceNormal()</tspan><tspan x="1581" dy="14.7">* operator=()</tspan><tspan x="1581" dy="14.7">* BDSAcceleratorComponent()</tspan></text></g>

<g id="n_set_gc"><rect class="b" x="940.8" y="4140" width="251" height="76.5"/><path class="s" d="M940.8 4165.5h251M940.8 4191h251"/><text class="t c" x="1066.3" y="4155.5">std::set&lt; BDSGeometryComponent * &gt;</text></g>

<g id="n_BDSSampler"><rect class="b" x="1215" y="4045" width="169" height="267.6"/><path class="s" d="M1215 4070.5h169M1215 4110.7h169"/><text class="t c" x="1299.5" y="4060.5">BDSSampler</text><text class="t" x="1225" y="4086"># name<tspan x="1225" dy="14.7"># filterSetID</tspan></text>
<text class="t" x="1225" y="4126.2">+ BDSSampler()<tspan x="1225" dy="14.7">+ BDSSampler()</tspan><tspan x="1225" dy="14.7">+ ~BDSSampler()</tspan><tspan x="1225" dy="14.7">+ operator=()</tspan><tspan x="1225" dy="14.7">+ BDSSampler()</tspan><tspan x="1225" dy="14.7">+ GetName()</tspan><tspan x="1225" dy="14.7">+ GetFilterSetID()</tspan><tspan x="1225" dy="14.7"># CommonConstruction()</tspan><tspan x="1225" dy="14.7"># SetSensitivity()</tspan><tspan x="1225" dy="14.7">* operator=()</tspan><tspan x="1225" dy="14.7">* BDSSampler()</tspan><tspan x="1225" dy="14.7">* GetName()</tspan><tspan x="1225" dy="14.7">* GetFilterSetID()</tspan></text></g>

<g id="n_BDSSamplerCustom"><rect class="b" x="1134" y="4868" width="172" height="179.4"/><path class="s" d="M1134 4893.5h172M1134 4919h172"/><text class="t c" x="1220" y="4883.5">BDSSamplerCustom</text><text class="t" x="1144" y="4909">+ chordLength</text>
<text class="t" x="1144" y="4934.5">+ BDSSamplerCustom()<tspan x="1144" dy="14.7">+ BDSSamplerCustom()</tspan><tspan x="1144" dy="14.7">+ ~BDSSamplerCustom()</tspan><tspan x="1144" dy="14.7">+ operator=()</tspan><tspan x="1144" dy="14.7">+ BDSSamplerCustom()</tspan><tspan x="1144" dy="14.7">+ ChordLength()</tspan><tspan x="1144" dy="14.7">* operator=()</tspan><tspan x="1144" dy="14.7">* BDSSamplerCustom()</tspan></text></g>

<g id="n_BDSSimpleComponent"><rect class="b" x="1536" y="4868" width="211" height="179.4"/><path class="s" d="M1536 4893.5h211M1536 4919h211"/><text class="t c" x="1641.5" y="4883.5">BDSSimpleComponent</text>
<text class="t" x="1546" y="4934.5">+ BDSSimpleComponent()<tspan x="1546" dy="14.7">+ BDSSimpleComponent()</tspan><tspan x="1546" dy="14.7">+ ~BDSSimpleComponent()</tspan><tspan x="1546" dy="14.7">+ BDSSimpleComponent()</tspan><tspan x="1546" dy="14.7">+ operator=()</tspan><tspan x="1546" dy="14.7">+ BDSSimpleComponent()</tspan><tspan x="1546" dy="14.7"># Build()</tspan><tspan x="1546" dy="14.7"># BuildContainerLogicalVolume()</tspan></text></g>

<g id="n_BDSLinkOpaqueBox"><rect class="b" x="920.4" y="5110" width="170.2" height="326.4"/><path class="s" d="M920.4 5135.5h170.2M920.4 5190.4h170.2"/><text class="t c" x="1005.5" y="5125.5">BDSLinkOpaqueBox</text><text class="t" x="930.4" y="5151">- outputSamplerRadius<tspan x="930.4" dy="14.7">- offsetToStart</tspan><tspan x="930.4" dy="14.7">- transformToStart</tspan></text>
<text class="t" x="930.4" y="5205.9">+ BDSLinkOpaqueBox()<tspan x="930.4" dy="14.7">+ ~BDSLinkOpaqueBox()</tspan><tspan x="930.4" dy="14.7">+ BDSLinkOpaqueBox()</tspan><tspan x="930.4" dy="14.7">+ BDSLinkOpaqueBox()</tspan><tspan x="930.4" dy="14.7">+ operator=()</tspan><tspan x="930.4" dy="14.7">+ OffsetToStart()</tspan><tspan x="930.4" dy="14.7">+ TransformToStart()</tspan><tspan x="930.4" dy="14.7">+ PlaceOutputSampler()</tspan><tspan x="930.4" dy="14.7">+ ArcLength()</tspan><tspan x="930.4" dy="14.7">+ ChordLength()</tspan><tspan x="930.4" dy="14.7">+ Angle()</tspan><tspan x="930.4" dy="14.7">+ LinkName()</tspan><tspan x="930.4" dy="14.7">* ArcLength()</tspan><tspan x="930.4" dy="14.7">* ChordLength()</tspan><tspan x="930.4" dy="14.7">* Angle()</tspan><tspan x="930.4" dy="14.7">* LinkName()</tspan></text></g>

<g id="n_LinkEntry"><rect class="g" x="496.5" y="5499" width="187.5" height="120.6"/><path class="sg" d="M496.5 5524.5h187.5M496.5 5594.1h187.5"/><text class="t c" x="590.25" y="5514.5">BDSLinkRegistry::LinkEntry</text><text class="t" x="506.5" y="5540">+ noRotation<tspan x="506.5" dy="14.7">+ transform</tspan><tspan x="506.5" dy="14.7">+ transformInverse</tspan><tspan x="506.5" dy="14.7">+ id</tspan></text></g>

<g id="n_map_byname"><rect class="b" x="276.5" y="5682.8" width="201.5" height="91.2"/><path class="s" d="M276.5 5723h201.5M276.5 5748.5h201.5"/><text class="t" x="286.5" y="5698.3">std::map&lt; std::string,</text><text class="t c" x="377.25" y="5713">BDSLinkRegistry::LinkEntry &gt;</text></g>
<g id="n_map_byid"><rect class="b" x="502" y="5682.8" width="175.6" height="91.2"/><path class="s" d="M502 5723h175.6M502 5748.5h175.6"/><text class="t" x="512" y="5698.3">std::map&lt; G4int, BDSLink</text><text class="t c" x="589.8" y="5713">Registry::LinkEntry &gt;</text><text class="t" x="512" y="5738.5">+ keys</text></g>

<g id="n_BDSLinkRegistry"><rect class="r" x="408.7" y="5838" width="150.7" height="194.1"/><path class="s" d="M408.7 5863.5h150.7M408.7 5889h150.7"/><text class="t c" x="484" y="5853.5">BDSLinkRegistry</text>
<text class="t" x="418.7" y="5904.5">+ BDSLinkRegistry()<tspan x="418.7" dy="14.7">+ ~BDSLinkRegistry()</tspan><tspan x="418.7" dy="14.7">+ Register()</tspan><tspan x="418.7" dy="14.7">+ Transform()</tspan><tspan x="418.7" dy="14.7">+ Transform()</tspan><tspan x="418.7" dy="14.7">+ TransformInverse()</tspan><tspan x="418.7" dy="14.7">+ TransformInverse()</tspan><tspan x="418.7" dy="14.7">+ NoRotation()</tspan><tspan x="418.7" dy="14.7">+ NoRotation()</tspan></text></g>
</svg>
